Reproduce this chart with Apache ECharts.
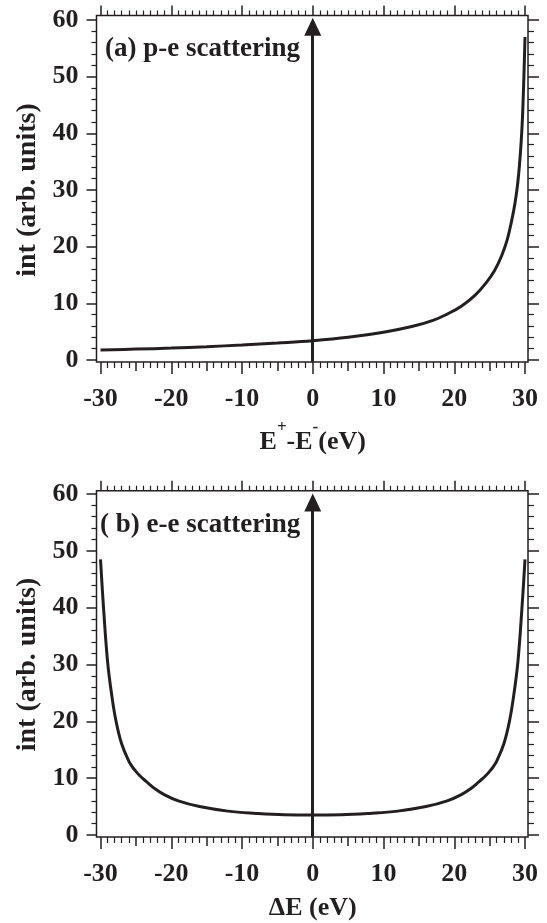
<!DOCTYPE html>
<html>
<head>
<meta charset="utf-8">
<script src="https://cdn.jsdelivr.net/npm/echarts@6/dist/echarts.min.js"></script>
<style>
  html, body { margin: 0; padding: 0; background: #fff; }
  #chart { width: 547px; height: 923px; }
</style>
</head>
<body>
<div id="chart"></div>
<script>
// (a) p-e scattering
const ePe = [-30, -25, -20, -15, -10, -5, 0, 5, 10, 14, 17, 19, 21, 23, 24.5, 25.7, 26.7, 27.5, 28.1, 28.6, 29.0, 29.35, 29.65, 30]
const intPe = [1.75, 1.92, 2.1, 2.35, 2.65, 3.0, 3.4, 4.0, 4.9, 5.9, 7.0, 8.1, 9.5, 11.5, 13.6, 15.8, 18.4, 21.3, 24.5, 27.8, 31.5, 36.5, 43, 57]

// (b) e-e scattering
const eEe = [-30, -29.6, -29, -28.4, -27.8, -27, -26, -25.5, -25, -24.5, -24, -23.2, -22.5, -21, -19, -16, -12, -8, -4, 0,
  4, 8, 12, 16, 19, 21, 22.5, 23.2, 24, 24.5, 25, 25.5, 26, 27, 27.8, 28.4, 29, 29.6, 30]
const intEe = [48.5, 40.5, 30.5, 24.5, 20, 16, 13, 12.0, 11.2, 10.5, 9.9, 9.05, 8.3, 7.1, 6.0, 5.0, 4.2, 3.8, 3.55, 3.5,
  3.55, 3.8, 4.2, 5.0, 6.0, 7.1, 8.3, 9.05, 9.9, 10.5, 11.2, 12.0, 13, 16, 20, 24.5, 30.5, 40.5, 48.5]

const panelTitles = ['(a) p-e scattering', '( b) e-e scattering']
const yName = 'int (arb. units)'

const ink = '#231f20'
const font = 'Liberation Serif'

const chart = echarts.init(document.getElementById('chart'))

const hiddenAxis = (grid, min, max) => ({
  type: 'value', gridIndex: grid, min, max,
  axisLine: { show: false, onZero: false }, axisTick: { show: false },
  axisLabel: { show: false }, splitLine: { show: false }
})

const tickAxis = (grid, pos, opts) => ({
  type: 'value', gridIndex: grid, position: pos,
  min: opts.min, max: opts.max, interval: opts.interval,
  offset: opts.offset,
  axisLine: { show: false, onZero: false },
  axisTick: { show: true, inside: false, length: opts.len, lineStyle: { color: ink, width: 1.5 } },
  minorTick: { show: !!opts.minor, splitNumber: opts.minor || 5, length: opts.minorLen || 5, lineStyle: { color: ink, width: 1.2 } },
  axisLabel: opts.label ? {
    show: true, margin: opts.margin, color: ink,
    fontFamily: font, fontWeight: 'bold', fontSize: 26
  } : { show: false },
  splitLine: { show: false },
  name: opts.name || '',
  nameLocation: 'middle',
  nameGap: opts.nameGap,
  nameRotate: opts.nameRotate,
  nameTextStyle: opts.nameStyle || { color: ink, fontFamily: font, fontWeight: 'bold', fontSize: 28 }
})

const xNameA = {
  color: ink, fontFamily: font, fontWeight: 'bold', fontSize: 26,
  rich: {
    m: { fontFamily: font, fontWeight: 'bold', fontSize: 26, color: ink, lineHeight: 36, verticalAlign: 'bottom' },
    s: { fontFamily: font, fontWeight: 'bold', fontSize: 17, color: ink, lineHeight: 36, verticalAlign: 'top' }
  }
}

const arrow = (tip) => ({
  silent: true, symbol: ['none', 'triangle'], symbolSize: [17, 18],
  label: { show: false },
  lineStyle: { color: ink, width: 3, type: 'solid' },
  data: [[{ coord: [0, -0.3] }, { coord: [0, tip] }]]
})

const titleStyle = { color: ink, fontFamily: font, fontWeight: 'bold', fontSize: 27 }

const option = {
  animation: false,
  backgroundColor: '#fff',
  title: [
    { text: panelTitles[0], left: 105, top: 36, padding: 0, textStyle: titleStyle },
    { text: panelTitles[1], left: 100, top: 512, padding: 0, textStyle: titleStyle }
  ],
  grid: [
    { left: 96.5, right: 19, top: 15.5, height: 346.5, show: true, borderColor: ink, borderWidth: 1.5 },
    { left: 100.5, right: 22, top: 20, height: 340 },
    { left: 96.5, right: 19, top: 490.7, height: 346.3, show: true, borderColor: ink, borderWidth: 1.5 },
    { left: 100.5, right: 22, top: 494, height: 341 }
  ],
  xAxis: [
    hiddenAxis(0, -30.565, 30.424),
    tickAxis(1, 'bottom', { min: -30, max: 30, interval: 10, offset: 2, len: 12, label: true, margin: 24,
      name: '{m|E}{s|+}{m|-E}{s|-}{m|(eV)}', nameGap: 57, nameStyle: xNameA }),
    tickAxis(1, 'bottom', { min: -30, max: 30, interval: 5, offset: 2, len: 9, minor: 5, minorLen: 6 }),
    tickAxis(1, 'top', { min: -30, max: 30, interval: 10, offset: 4.5, len: 10, minor: 10, minorLen: 5 }),
    hiddenAxis(2, -30.565, 30.424),
    tickAxis(3, 'bottom', { min: -30, max: 30, interval: 10, offset: 2, len: 12, label: true, margin: 24,
      name: 'ΔE (eV)', nameGap: 58, nameStyle: { color: ink, fontFamily: font, fontWeight: 'bold', fontSize: 26 } }),
    tickAxis(3, 'bottom', { min: -30, max: 30, interval: 5, offset: 2, len: 9, minor: 5, minorLen: 6 }),
    tickAxis(3, 'top', { min: -30, max: 30, interval: 10, offset: 3.3, len: 10, minor: 10, minorLen: 5 })
  ],
  yAxis: [
    hiddenAxis(0, -0.353, 60.794),
    tickAxis(1, 'left', { min: 0, max: 60, interval: 10, offset: 4, len: 10, minor: 5, minorLen: 5, label: true, margin: 18,
      name: yName, nameGap: 54, nameRotate: 90 }),
    tickAxis(1, 'right', { min: 0, max: 60, interval: 10, offset: 3, len: 11, minor: 5, minorLen: 6 }),
    hiddenAxis(2, -0.352, 60.58),
    tickAxis(3, 'left', { min: 0, max: 60, interval: 10, offset: 4, len: 10, minor: 5, minorLen: 5, label: true, margin: 18,
      name: yName, nameGap: 54, nameRotate: 90 }),
    tickAxis(3, 'right', { min: 0, max: 60, interval: 10, offset: 3, len: 11, minor: 5, minorLen: 6 })
  ],
  series: [
    {
      type: 'line', xAxisIndex: 0, yAxisIndex: 0,
      data: ePe.map((e, i) => [e, intPe[i]]),
      showSymbol: false, smooth: 0.4, clip: false,
      lineStyle: { color: ink, width: 3 },
      markLine: arrow(58.8)
    },
    {
      type: 'line', xAxisIndex: 4, yAxisIndex: 3,
      data: eEe.map((e, i) => [e, intEe[i]]),
      showSymbol: false, smooth: 0.4, clip: false,
      lineStyle: { color: ink, width: 3 },
      markLine: arrow(58.5)
    }
  ]
}

chart.setOption(option)
</script>
</body>
</html>
